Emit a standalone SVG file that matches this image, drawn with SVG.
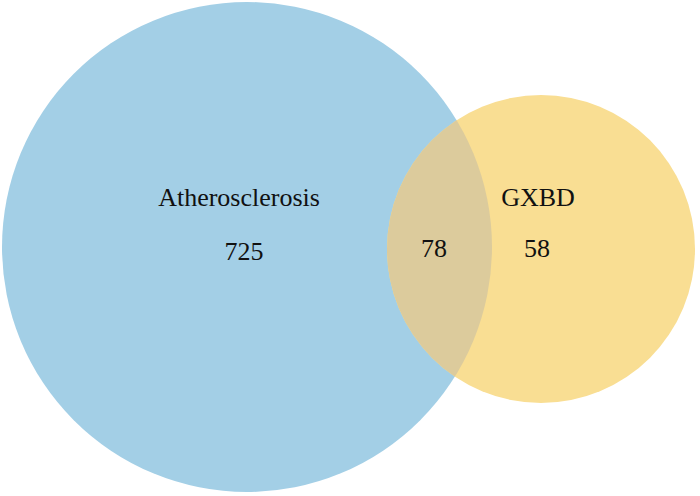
<svg xmlns="http://www.w3.org/2000/svg" width="700" height="496" viewBox="0 0 700 496">
<style>
.t{font-family:"Liberation Serif","Times New Roman",serif;font-size:26px;fill:#111;text-anchor:middle}
</style>
<defs>
<clipPath id="clipA"><circle cx="247" cy="247" r="245"/></clipPath>
</defs>
<rect width="700" height="496" fill="#ffffff"/>
<g id="atherosclerosis">
<circle cx="247" cy="247" r="245" fill="#a3cfe6"/>
</g>
<g id="gxbd">
<circle cx="541" cy="249" r="154" fill="#f9de93"/>
</g>
<g id="overlap">
<circle cx="541" cy="249" r="154" fill="#dccb9c" clip-path="url(#clipA)"/>
</g>
<g id="labels">
<text class="t" x="239" y="206">Atherosclerosis</text>
<text class="t" x="244" y="260">725</text>
<text class="t" x="538" y="206">GXBD</text>
<text class="t" x="434" y="257">78</text>
<text class="t" x="537" y="257">58</text>
</g>
</svg>
